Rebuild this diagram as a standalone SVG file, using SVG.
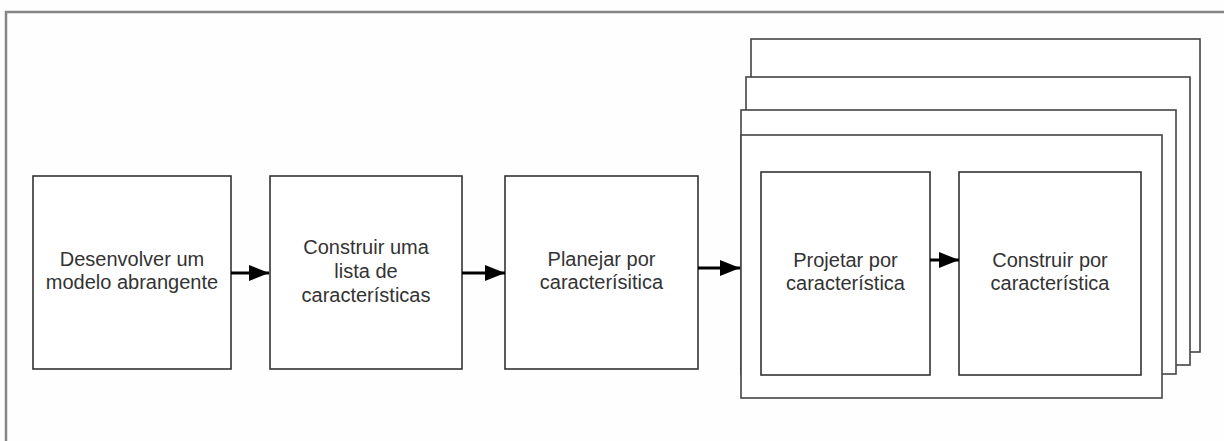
<svg xmlns="http://www.w3.org/2000/svg" width="1224" height="441" viewBox="0 0 1224 441">
<style>
.frame{fill:none;stroke:#858585;stroke-width:2.5}
.box{fill:#fff;stroke:#333;stroke-width:1.6}
.stack{fill:#fff;stroke:#444;stroke-width:1.6}
.lbl{font-family:"Liberation Sans",Arial,sans-serif;font-size:20px;fill:#333;text-anchor:middle}
.conn{stroke:#000;stroke-width:3;fill:none}
</style>
<defs>
<marker id="ah" markerUnits="userSpaceOnUse" markerWidth="20" markerHeight="16" refX="20" refY="8" orient="auto">
<path d="M0,0 L20,8 L0,16 z" fill="#000"/>
</marker>
</defs>
<rect x="0" y="0" width="1224" height="441" fill="#fefefe"/>
<rect class="frame" x="6" y="12" width="1240" height="450"/>
<g id="node-desenvolver">
<rect class="box" x="33" y="176" width="198" height="193"/>
<text class="lbl" x="132" y="266">Desenvolver um</text>
<text class="lbl" x="132" y="289">modelo abrangente</text>
</g>
<g id="node-construir-lista">
<rect class="box" x="270" y="176" width="192" height="193"/>
<text class="lbl" x="366" y="254">Construir uma</text>
<text class="lbl" x="366" y="278">lista de</text>
<text class="lbl" x="366" y="302">características</text>
</g>
<g id="node-planejar">
<rect class="box" x="505" y="176" width="193" height="193"/>
<text class="lbl" x="601.5" y="266">Planejar por</text>
<text class="lbl" x="601.5" y="289">caracterísitica</text>
</g>
<g id="node-iteracao">
<rect class="stack" x="751" y="39" width="449" height="313"/>
<rect class="stack" x="746" y="77" width="444" height="288"/>
<rect class="stack" x="741" y="110" width="435" height="264"/>
<rect class="stack" x="741" y="135" width="421" height="263"/>
</g>
<g id="node-projetar">
<rect class="box" x="761" y="172" width="169" height="203"/>
<text class="lbl" x="845.5" y="267">Projetar por</text>
<text class="lbl" x="845.5" y="290">característica</text>
</g>
<g id="node-construir">
<rect class="box" x="959" y="172" width="182" height="203"/>
<text class="lbl" x="1050" y="267">Construir por</text>
<text class="lbl" x="1050" y="290">característica</text>
</g>
<g id="connectors">
<line class="conn" x1="231" y1="273" x2="269" y2="273" marker-end="url(#ah)"/>
<line class="conn" x1="462" y1="273" x2="505" y2="273" marker-end="url(#ah)"/>
<line class="conn" x1="698" y1="268" x2="740" y2="268" marker-end="url(#ah)"/>
<line class="conn" x1="930" y1="260" x2="959" y2="260" marker-end="url(#ah)"/>
</g>
</svg>
